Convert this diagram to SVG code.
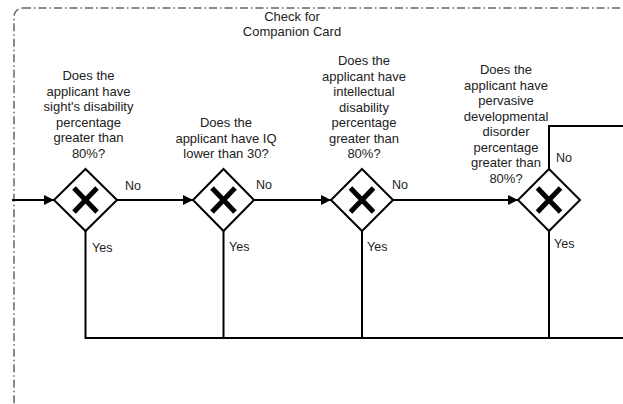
<svg xmlns="http://www.w3.org/2000/svg" width="623" height="404" viewBox="0 0 623 404">
<style>
.t{font-family:"Liberation Sans",Arial,sans-serif;font-size:13px;fill:#222;text-anchor:middle}
.l{font-family:"Liberation Sans",Arial,sans-serif;font-size:12.5px;fill:#222}
.e{fill:none;stroke:#000;stroke-width:2}
.g{fill:#fff;stroke:#000;stroke-width:2}
.x{fill:none;stroke:#000;stroke-width:5}
</style>
<defs>
<marker id="a" viewBox="0 0 10 10" refX="10" refY="5" markerWidth="10" markerHeight="10" markerUnits="userSpaceOnUse" orient="auto">
<path d="M0,0 L10,5 L0,10 Z" fill="#000"/>
</marker>
</defs>
<rect id="pool" x="14" y="8" width="700" height="500" rx="9" fill="none" stroke="#666" stroke-width="1.5" stroke-dasharray="8 3 1.5 3"/>
<text class="t" x="292" y="21">Check for</text>
<text class="t" x="292" y="36">Companion Card</text>
<g id="connectors">
<path class="e" d="M12,200 L54,200" marker-end="url(#a)"/>
<path class="e" d="M117,200 L193,200" marker-end="url(#a)"/>
<path class="e" d="M254,200 L331,200" marker-end="url(#a)"/>
<path class="e" d="M393,200 L518,200" marker-end="url(#a)"/>
<path class="e" d="M549,169 L549,126 L625,126"/>
<path class="e" d="M85.5,231 L85.5,338 L625,338"/>
<path class="e" d="M223.5,231 L223.5,338"/>
<path class="e" d="M362,231 L362,338"/>
<path class="e" d="M549,231 L549,338"/>
<text class="l" x="125" y="190">No</text>
<text class="l" x="256" y="189">No</text>
<text class="l" x="392" y="189">No</text>
<text class="l" x="556" y="162">No</text>
<text class="l" x="92" y="252">Yes</text>
<text class="l" x="229" y="251">Yes</text>
<text class="l" x="367" y="251">Yes</text>
<text class="l" x="554" y="248">Yes</text>
</g>
<g id="g1">
<path class="g" d="M85.5,169 L117,200 L85.5,231 L54,200 Z"/>
<path class="x" d="M74,188 L97,212 M97,188 L74,212"/>
<text class="t"><tspan x="88.5" y="80">Does the</tspan><tspan x="88.5" y="95.5">applicant have</tspan><tspan x="88.5" y="111">sight's disability</tspan><tspan x="88.5" y="126.5">percentage</tspan><tspan x="88.5" y="142">greater than</tspan><tspan x="88.5" y="157.5">80%?</tspan></text>
</g>
<g id="g2">
<path class="g" d="M223.5,169 L254,200 L223.5,231 L193,200 Z"/>
<path class="x" d="M212,188 L235,212 M235,188 L212,212"/>
<text class="t"><tspan x="226" y="127">Does the</tspan><tspan x="226" y="142.5">applicant have IQ</tspan><tspan x="226" y="158">lower than 30?</tspan></text>
</g>
<g id="g3">
<path class="g" d="M362,169 L393,200 L362,231 L331,200 Z"/>
<path class="x" d="M350.5,188 L373.5,212 M373.5,188 L350.5,212"/>
<text class="t"><tspan x="364" y="65">Does the</tspan><tspan x="364" y="80.5">applicant have</tspan><tspan x="364" y="96">intellectual</tspan><tspan x="364" y="111.5">disability</tspan><tspan x="364" y="127">percentage</tspan><tspan x="364" y="142.5">greater than</tspan><tspan x="364" y="158">80%?</tspan></text>
</g>
<g id="g4">
<path class="g" d="M549,169 L580,200 L549,231 L518,200 Z"/>
<path class="x" d="M537.5,188 L560.5,212 M560.5,188 L537.5,212"/>
<text class="t"><tspan x="506" y="74">Does the</tspan><tspan x="506" y="89.5">applicant have</tspan><tspan x="506" y="105">pervasive</tspan><tspan x="506" y="120.5">developmental</tspan><tspan x="506" y="136">disorder</tspan><tspan x="506" y="151.5">percentage</tspan><tspan x="506" y="167">greater than</tspan><tspan x="506" y="182.5">80%?</tspan></text>
</g>
</svg>
